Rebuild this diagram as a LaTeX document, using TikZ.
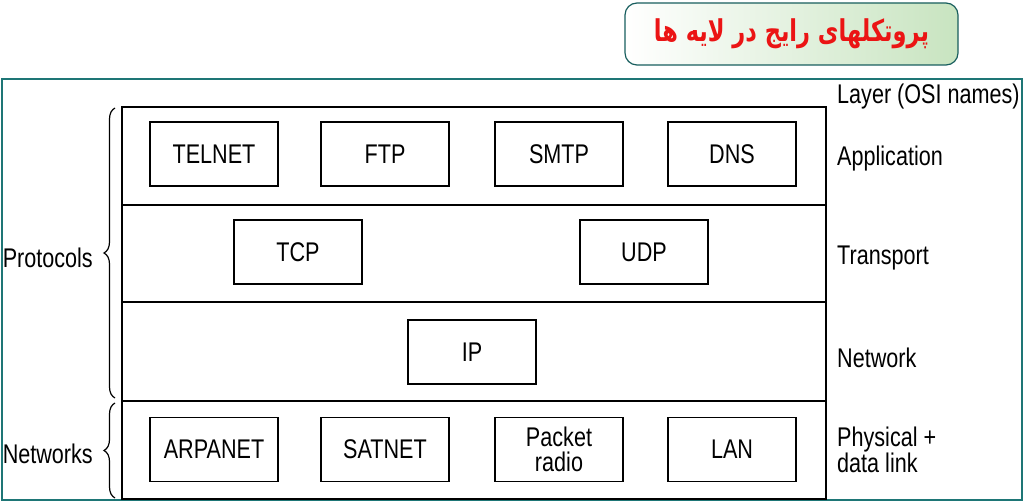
\documentclass[tikz,border=0pt]{standalone}
\usepackage{fontspec}
\setmainfont{Liberation Sans}[FakeStretch=0.8]
\newfontfamily\arabicfont[Script=Arabic,FakeStretch=0.75]{DejaVu Sans}
\TeXXeTstate=1
\usetikzlibrary{decorations.pathreplacing}
\definecolor{frameteal}{RGB}{30,118,118}
\definecolor{titlegreen}{RGB}{200,228,192}
\definecolor{titlered}{RGB}{235,20,20}

\begin{document}
\begin{tikzpicture}[
  x=1pt, y=-1pt,
  proto/.style={draw, line width=1.4pt, minimum width=128pt, minimum height=64pt, inner sep=0pt,
    font=\fontsize{27}{25}\selectfont, align=center},
  lay/.style={anchor=west, inner sep=0pt, font=\fontsize{27}{25}\selectfont, align=left},
  side/.style={anchor=east, inner sep=0pt, font=\fontsize{27}{25}\selectfont},
  brc/.style={decorate, decoration={brace, amplitude=11pt, mirror}, line width=1.2pt}
]
\useasboundingbox (0,0) rectangle (1024,502);
\fill[white] (0,0) rectangle (1024,502);
% outer frame and title
\draw[frameteal, line width=2pt] (2,79) rectangle (1022,500);
\node[draw=frameteal!80!black, line width=1.2pt, rounded corners=12pt, shading angle=135,
  left color=white, right color=titlegreen, minimum width=333pt, minimum height=62pt]
  (title) at (791.5,34) {\arabicfont\bfseries\fontsize{30}{32}\selectfont\color{titlered}\beginR پروتکلهای رایج در لایه ها\endR};
% layer stack
\draw[line width=1.6pt] (122,107) rectangle (826,499);
\draw[line width=1.6pt] (122,205) -- (826,205);
\draw[line width=1.6pt] (122,302) -- (826,302);
\draw[line width=1.6pt] (122,401) -- (826,401);
% protocols
\node[proto] (telnet) at (214,154) {TELNET};
\node[proto] (ftp) at (385,154) {FTP};
\node[proto] (smtp) at (559,154) {SMTP};
\node[proto] (dns) at (732,154) {DNS};
\node[proto] (tcp) at (298,252) {TCP};
\node[proto] (udp) at (644,252) {UDP};
\node[proto] (ip) at (472,352) {IP};
\node[proto] (arpanet) at (214,449.5) {ARPANET};
\node[proto] (satnet) at (385,449.5) {SATNET};
\node[proto] (packet) at (559,449.5) {Packet\\radio};
\node[proto] (lan) at (732,449.5) {LAN};
% layer names
\node[lay] (osi) at (837,97) {Layer (OSI names)};
\node[lay] (app) at (837,159) {Application};
\node[lay] (trans) at (837,258) {Transport};
\node[lay] (net) at (837,358) {Network};
\node[lay] (phys) at (837,450) {Physical +\\data link};
% braces
\draw[brc] (115,108) -- (115,398) coordinate[midway] (protobrace);
\draw[brc] (115,403) -- (115,498) coordinate[midway] (netbrace);
\node[side] (protocols) at (93,258) {Protocols};
\node[side] (networks) at (93,454) {Networks};
\end{tikzpicture}
\end{document}
